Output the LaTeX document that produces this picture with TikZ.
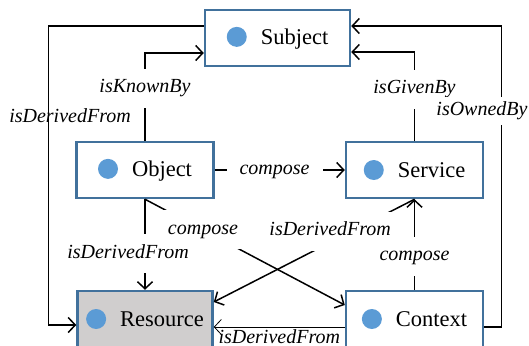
\documentclass[tikz,border=0pt]{standalone}
\usepackage{fontspec}
\setmainfont{Liberation Serif}
\usetikzlibrary{arrows.meta}
\definecolor{boxblue}{RGB}{65,113,156}
\definecolor{dotblue}{RGB}{91,155,213}
\definecolor{resgray}{RGB}{208,206,206}
\newcommand{\bluedot}{\tikz[baseline={(0,-7.5pt)}]\fill[dotblue] (0,0) circle (10pt);\hspace{14pt}}
\tikzset{
  entity/.style={draw=boxblue, line width=2.5pt, minimum width=137pt, minimum height=56pt, inner sep=0pt, font=\fontsize{22.5}{26}\selectfont},
  lbl/.style={font=\fontsize{20}{24}\selectfont\itshape, text height=14pt, text depth=5pt, inner xsep=6pt, inner ysep=10pt},
  cut/.style={fill=white},
  rel/.style={line width=1.5pt, -{Straight Barb[length=7pt,width=15pt]}}
}
\begin{document}
\begin{tikzpicture}[x=1pt,y=-1pt]
    \useasboundingbox (0,0) rectangle (529,345);
    \clip (0,0) rectangle (529,345);

    % Entities
    \node[entity, minimum width=145pt] (subject) at (277.5,38) {\bluedot Subject};
    \node[entity] (object) at (145,170) {\bluedot Object};
    \node[entity] (service) at (414.5,170) {\bluedot Service};
    \node[entity, fill=resgray, minimum width=135pt] (resource) at (145,319) {\bluedot Resource};
    \node[entity] (context) at (414.5,319) {\bluedot Context};

    % Relations to Subject
    \draw[rel] ([yshift=12pt]subject.west) -| ([xshift=-28pt,yshift=-6pt]resource.west) -- ([yshift=-6pt]resource.west);
    \node[lbl] (dfleft) at (70,118) {isDerivedFrom};
    \draw[rel] (object.north) |- node[lbl, cut, pos=0.3] (kb) {isKnownBy} ([yshift=-15pt]subject.west);
    \draw[rel] (service.north) |- node[lbl, cut, pos=0.29] (gb) {isGivenBy} ([yshift=-14pt]subject.east);
    \draw[rel] ([yshift=-8pt]context.east) -| ([xshift=150pt,yshift=12pt]subject.east) -- ([yshift=12pt]subject.east);
    \node[lbl, cut, inner ysep=4.5pt] (ob) at (482,111) {isOwnedBy};

    % Composition and derivation
    \draw[rel] (object.east) -- node[lbl, cut, pos=0.46, inner xsep=13pt] (c1) {compose} (service.west);
    \draw[rel] (object.south) -- node[lbl, cut, pos=0.6, xshift=-17pt] (d1) {isDerivedFrom} (resource.north);
    \draw[rel] (object.south) -- node[lbl, cut, pos=0.29] (c2) {compose} ([yshift=14pt]context.west);
    \draw[rel] (service.south) -- node[lbl, cut, pos=0.42, yshift=11pt] (d2) {isDerivedFrom} ([yshift=17pt]resource.east);
    \draw[rel] (context.north) -- node[lbl, cut, pos=0.37] (c3) {compose} (service.south);
    \draw[rel, line width=0.8pt] ([yshift=-8pt]context.west) -- node[lbl, below, inner ysep=2pt] (d3) {isDerivedFrom} ([yshift=-8pt]resource.east);
\end{tikzpicture}
\end{document}
